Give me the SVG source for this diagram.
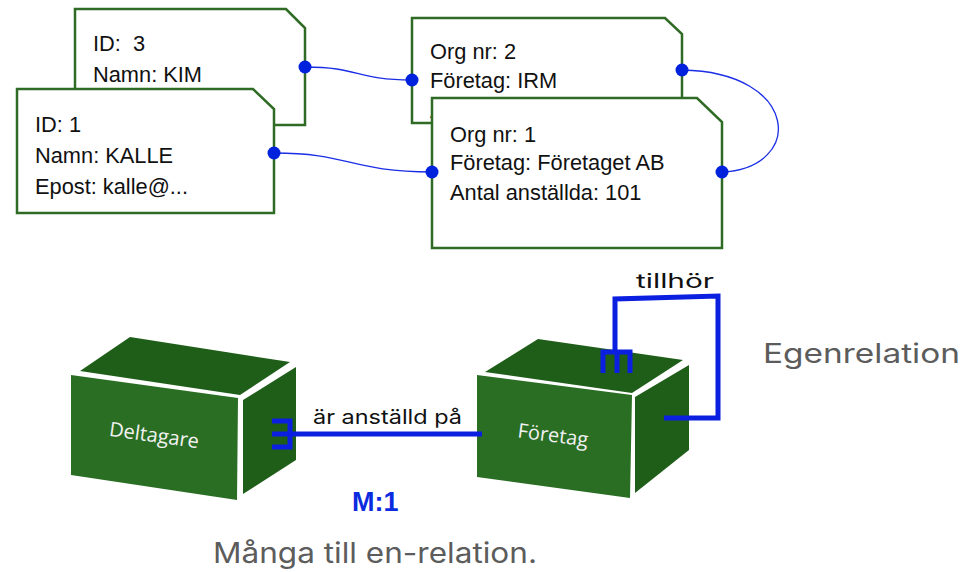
<svg xmlns="http://www.w3.org/2000/svg" width="967" height="572" viewBox="0 0 967 572">
<style>
.card{fill:#fff;stroke:#2f6b24;stroke-width:2.5}
.ct{font-family:"Liberation Sans",Arial,sans-serif;font-size:21.8px;fill:#111}
.thin{fill:none;stroke:#1a2ee6;stroke-width:1.3}
.dot{fill:#0022dd}
.front{fill:#2a6e24}
.side{fill:#1f5e19}
.bt{font-family:"Open Sans","Noto Sans",sans-serif;font-size:20px;fill:#f2f2f2}
.rel{fill:none;stroke:#0a1fe0;stroke-width:5}
.lbl{font-family:Inter,"Noto Sans",sans-serif;font-size:20px;fill:#111}
.gray{font-family:Inter,"Noto Sans",sans-serif;fill:#5c5c5c}
</style>
<rect width="967" height="572" fill="#fff"/>

<g id="kim">
<path class="card" d="M75,9 H286 L305,28 V125 H75 Z"/>
<text class="ct" x="93" y="51">ID:&#160; 3</text>
<text class="ct" x="93" y="82">Namn: KIM</text>
</g>
<g id="kalle">
<path class="card" d="M17,89 H253 L274,109 V213 H17 Z"/>
<text class="ct" x="35" y="132">ID: 1</text>
<text class="ct" x="35" y="163">Namn: KALLE</text>
<text class="ct" x="35" y="194">Epost: kalle@...</text>
</g>
<g id="irm">
<path class="card" d="M412,18 H665 L682,34 V123 H412 Z"/>
<text class="ct" x="430" y="59">Org nr: 2</text>
<text class="ct" x="430" y="88">Företag: IRM</text>
<text class="ct" x="430" y="118">A</text>
</g>
<g id="org1">
<path class="card" d="M432,98 H697 L722,122 V248 H432 Z"/>
<text class="ct" x="450" y="142">Org nr: 1</text>
<text class="ct" x="450" y="170">Företag: Företaget AB</text>
<text class="ct" x="450" y="200">Antal anställda: 101</text>
</g>

<g id="deltagare">
<polygon class="side" points="80,371 130,337 290,362 240,395"/>
<polygon class="front" points="71,375 238,398 237,500 71,475"/>
<polygon class="side" points="243,400 296,367 296,460 243,494"/>
<text class="bt" x="154" y="442" text-anchor="middle" transform="rotate(8 154 436)">Deltagare</text>
</g>
<g id="foretag">
<polygon class="side" points="485,372 538,339 683,360 632,393"/>
<polygon class="front" points="477,375 632,395 630,498 477,477"/>
<polygon class="side" points="635,397 689,365 689,450 635,493"/>
<text class="bt" x="553" y="442" text-anchor="middle" transform="rotate(7.5 553 436)">Företag</text>
</g>

<g id="connectors">
<path class="thin" d="M305,67 C360,67 355,80 412,80"/>
<path class="thin" d="M274,153 C350,153 350,172 432,172"/>
<path class="thin" d="M682,70 C800,72 805,168 722,172"/>
<circle class="dot" cx="305" cy="67" r="6.5"/>
<circle class="dot" cx="412" cy="80" r="6.5"/>
<circle class="dot" cx="274" cy="153" r="6.5"/>
<circle class="dot" cx="432" cy="172" r="6.5"/>
<circle class="dot" cx="682" cy="70" r="6.5"/>
<circle class="dot" cx="722" cy="172" r="6.5"/>
<path class="rel" d="M272,434 H482 M272,421 H290 V447 H272"/>
<path class="rel" d="M664,418 H718 V296 L615,299 V352 M603,373 V352 H630 V373 M617,352 V373"/>
</g>

<text class="lbl" x="313" y="424" textLength="149" lengthAdjust="spacingAndGlyphs">är anställd på</text>
<text class="lbl" x="636" y="288" textLength="78" lengthAdjust="spacingAndGlyphs">tillhör</text>
<text x="352" y="511" font-family="'Liberation Sans',Arial,sans-serif" font-weight="bold" font-size="27" fill="#0a2be0">M:1</text>
<text class="gray" x="213" y="563" font-size="28" textLength="324" lengthAdjust="spacingAndGlyphs">Många till en-relation.</text>
<text class="gray" x="763" y="363" font-size="27" textLength="197" lengthAdjust="spacingAndGlyphs">Egenrelation</text>
</svg>
